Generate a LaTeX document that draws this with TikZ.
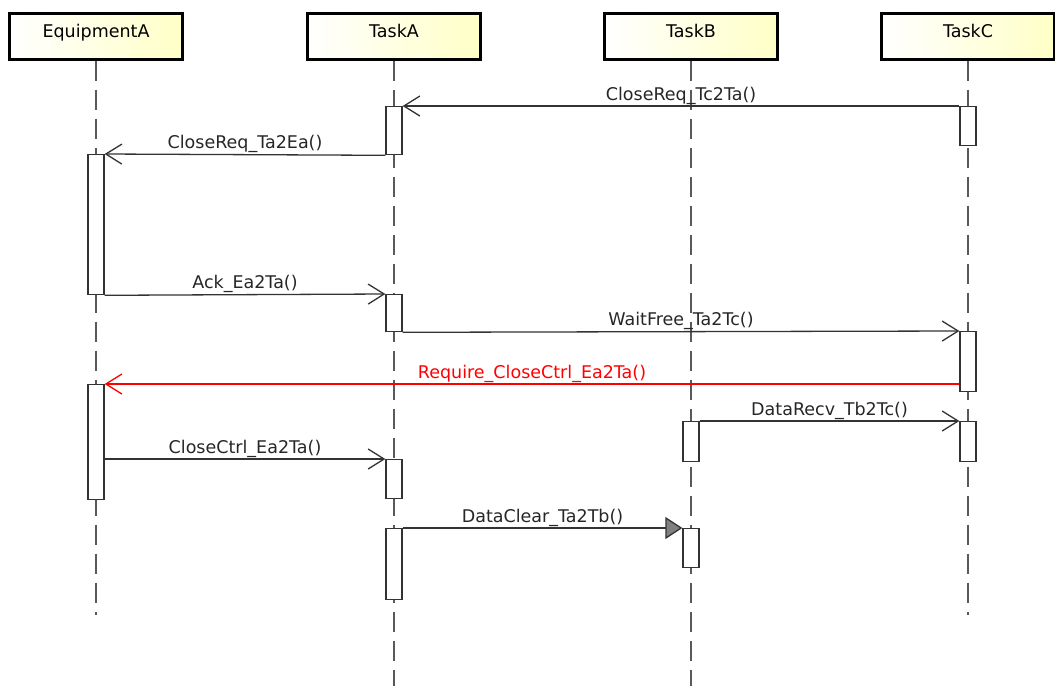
\documentclass[tikz,border=0pt]{standalone}
\usepackage{fontspec}
\setmainfont{DejaVu Sans}
\usetikzlibrary{arrows.meta,backgrounds}

\begin{document}
\begin{tikzpicture}[x=1pt,y=-1pt,
  object/.style={draw=black,line width=3pt,left color=white,right color=yellow!22,
    minimum width=173pt,minimum height=46pt,inner sep=0pt,text height=12pt,text depth=9pt,
    font=\fontsize{17.5}{19}\selectfont},
  lifeline/.style={draw=black!65,line width=1.5pt,dash pattern=on 20pt off 9pt},
  activation/.style={draw=black!80,fill=white,line width=1.3pt,minimum width=16pt,
    inner sep=0pt,anchor=north},
  message/.style={draw=black!80,line width=1.3pt,-{Straight Barb[length=16pt,width=20pt]}},
  async/.style={draw=black!80,line width=1.3pt,
    -{Triangle[length=17pt,width=22pt,fill=black!50]}},
  msg text/.style={anchor=base,yshift=6pt,inner sep=0pt,text=black!85,
    font=\fontsize{17.5}{19}\selectfont}]

  \useasboundingbox (0,0) rectangle (1055,686);

  \node[object] (equipA) at (96,36) {EquipmentA};
  \node[object] (taskA) at (394,36) {TaskA};
  \node[object] (taskB) at (691,36) {TaskB};
  \node[object] (taskC) at (968,36) {TaskC};

  \coordinate (equipA end) at (96,615);
  \coordinate (taskA end) at (394,686);
  \coordinate (taskB end) at (691,686);
  \coordinate (taskC end) at (968,615);

  \begin{pgfonlayer}{background}
    \draw[lifeline] (equipA.south) -- (equipA end);
    \draw[lifeline] (taskA.south) -- (taskA end);
    \draw[lifeline] (taskB.south) -- (taskB end);
    \draw[lifeline] (taskC.south) -- (taskC end);
  \end{pgfonlayer}

  \node[activation,minimum height=39pt] (tc1) at (968,106) {};
  \node[activation,minimum height=48pt] (ta1) at (394,106) {};
  \node[activation,minimum height=140pt] (ea1) at (96,154) {};
  \node[activation,minimum height=37pt] (ta2) at (394,294) {};
  \node[activation,minimum height=60pt] (tc2) at (968,331) {};
  \node[activation,minimum height=115pt] (ea2) at (96,384) {};
  \node[activation,minimum height=40pt] (tb1) at (691,421) {};
  \node[activation,minimum height=40pt] (tc3) at (968,421) {};
  \node[activation,minimum height=39pt] (ta3) at (394,459) {};
  \node[activation,minimum height=71pt] (ta4) at (394,528) {};
  \node[activation,minimum height=39pt] (tb2) at (691,528) {};

  \draw[message] (tc1.north west) -- node[msg text] (m1) {CloseReq\_Tc2Ta()} (ta1.north east);
  \draw[message] (ta1.south west) -- node[msg text] (m2) {CloseReq\_Ta2Ea()} (ea1.north east);
  \draw[message] (ea1.south east) -- node[msg text] (m3) {Ack\_Ea2Ta()} (ta2.north west);
  \draw[message] (ta2.south east) -- node[msg text] (m4) {WaitFree\_Ta2Tc()} (tc2.north west);
  \draw[message,draw=red] (ea2.north east -| tc2.west) --
    node[msg text,text=red] (m5) {Require\_CloseCtrl\_Ea2Ta()} (ea2.north east);
  \draw[message] (tb1.north east) -- node[msg text] (m6) {DataRecv\_Tb2Tc()} (tc3.north west);
  \draw[message] (ea2.east |- ta3.north) -- node[msg text] (m7) {CloseCtrl\_Ea2Ta()} (ta3.north west);
  \draw[async] (ta4.north east) -- node[msg text] (m8) {DataClear\_Ta2Tb()} (tb2.north west);

\end{tikzpicture}
\end{document}
